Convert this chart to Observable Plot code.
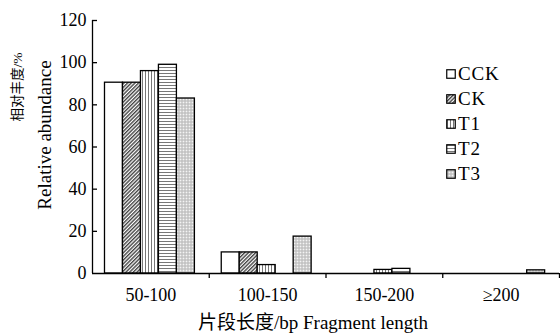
<!DOCTYPE html>
<html><head><meta charset="utf-8">
<script src="https://cdn.jsdelivr.net/npm/d3@7"></script>
<script src="https://cdn.jsdelivr.net/npm/@observablehq/plot@0.6"></script>
<style>
body{margin:0;background:#fff;}
#wrap{position:relative;width:560px;height:334px;}
#legend{position:absolute;left:446px;top:61px;font-family:"Liberation Serif","Times New Roman",serif;font-size:19px;letter-spacing:0.8px;color:#000;}
.row{display:flex;align-items:center;height:25px;}
.row svg{margin-right:2px;}
</style></head><body><div id="wrap"><div id="legend"></div></div>
<script>
const groups = ["50-100", "100-150", "150-200", "≥200"];
const series = ["CCK", "CK", "T1", "T2", "T3"];
const CCK = [90.5, 10, 0, 0];
const CK  = [90.5, 10, 0, 0];
const T1  = [96, 4, 1.7, 0];
const T2  = [99, 0, 2.2, 0];
const T3  = [83, 17.5, 0, 1.5];
const yTicks = [0, 20, 40, 60, 80, 100, 120];
const xTitle = "片段长度/bp Fragment length";
const yTitleCn = "相对丰度/%";
const yTitleEn = "Relative abundance";

const values = {CCK, CK, T1, T2, T3};
const fills = ["white", "url(#pCK)", "url(#pT1)", "url(#pT2)", "url(#pT3)"];
const rows = [];
series.forEach((s, si) => groups.forEach((g, gi) => rows.push({s, si, g, gi, v: values[s][gi]})));
const barRows = rows.filter(d => d.v > 0);

const off = 0.107, w = 0.154; // bar offset & width within a group band (fraction of band)
const font = '"Liberation Serif","Times New Roman","Noto Sans CJK SC",serif';

const plot = Plot.plot({
  width: 560, height: 334,
  marginLeft: 92, marginRight: 1, marginTop: 20, marginBottom: 61,
  style: {fontFamily: font, fontSize: "18px", color: "#000", background: "white"},
  x: {domain: [0, 4]},
  y: {domain: [0, 120]},
  color: {type: "ordinal", domain: series, range: fills},
  marks: [
    Plot.rectY(barRows, {
      x1: d => d.gi + off + d.si * w,
      x2: d => d.gi + off + (d.si + 1) * w,
      y1: 0, y2: "v",
      fill: "s", stroke: "black", strokeWidth: 1.3
    }),
    Plot.ruleY([0], {stroke: "black", strokeWidth: 1.3}),
    Plot.ruleX([0], {y1: 0, y2: 120, stroke: "black", strokeWidth: 1.3}),
    Plot.axisY(yTicks, {tickSize: 0, tickPadding: 6, fontSize: 18, label: null}),
    Plot.axisY(yTicks.slice(1), {tickSize: -5, tickFormat: () => "", label: null, strokeWidth: 1.3}),
    Plot.axisX([1, 2, 3, 4], {tickSize: 5, tickFormat: () => "", label: null, strokeWidth: 1.3}),
    Plot.axisX([0.5, 1.5, 2.5, 3.5], {tickSize: 0, tickPadding: 15, fontSize: 18,
      tickFormat: d => groups[Math.floor(d)], label: null}),
    Plot.text([xTitle], {frameAnchor: "bottom", lineAnchor: "middle", textAnchor: "middle",
      dx: -13, dy: 49, fontSize: 19, letterSpacing: 0.4}),
    Plot.text([yTitleCn], {frameAnchor: "left", rotate: -90, textAnchor: "middle", lineAnchor: "middle",
      dx: -75, dy: -60, fontSize: 13.5}),
    Plot.text([yTitleEn], {frameAnchor: "left", rotate: -90, textAnchor: "middle", lineAnchor: "middle",
      dx: -48, dy: -12, fontSize: 19})
  ]
});

const defsMarkup = `
<pattern id="pCK" width="2.6" height="2.6" patternUnits="userSpaceOnUse" patternTransform="rotate(45)">
  <rect width="2.6" height="2.6" fill="#fff"/><rect width="1.4" height="2.6" fill="#444"/></pattern>
<pattern id="pT1" width="3" height="3" patternUnits="userSpaceOnUse">
  <rect width="3" height="3" fill="#fff"/><rect x="1" width="1" height="3" fill="#777"/></pattern>
<pattern id="pT2" width="3" height="3" patternUnits="userSpaceOnUse">
  <rect width="3" height="3" fill="#fff"/><rect y="1" width="3" height="1" fill="#777"/></pattern>
<pattern id="pT3" width="3" height="3" patternUnits="userSpaceOnUse">
  <rect width="3" height="3" fill="#d2d2d2"/><rect width="1" height="1" fill="#f4f4f4"/><rect x="1.5" y="1.5" width="1" height="1" fill="#9a9a9a"/></pattern>`;
const defs = document.createElementNS("http://www.w3.org/2000/svg", "defs");
defs.innerHTML = defsMarkup;
plot.insertBefore(defs, plot.firstChild);

const wrap = document.getElementById("wrap");
wrap.insertBefore(plot, wrap.firstChild);

const legend = d3.select("#legend");
series.forEach((s, i) => {
  const r = legend.append("div").attr("class", "row");
  const sv = r.append("svg").attr("width", 10).attr("height", 10);
  sv.append("rect").attr("x", 0.75).attr("y", 0.75).attr("width", 8.5).attr("height", 8.5)
    .attr("fill", fills[i]).attr("stroke", "black").attr("stroke-width", 1.2);
  r.append("span").text(s);
});
</script></body></html>
